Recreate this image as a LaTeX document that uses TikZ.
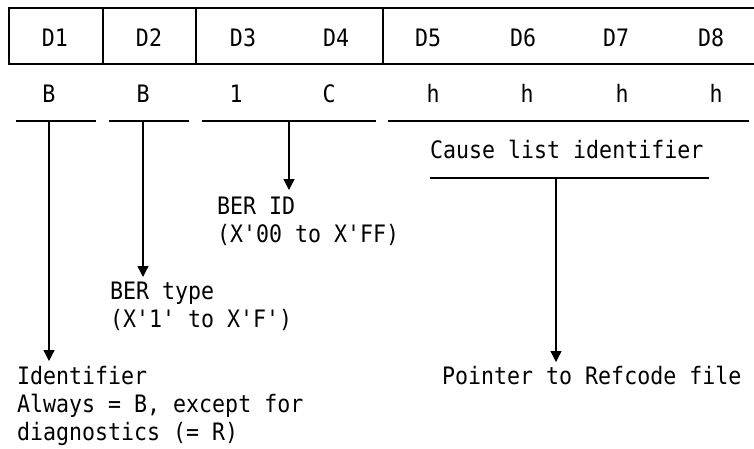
\documentclass[tikz,border=0pt]{standalone}
\usepackage{fontspec}
\newfontfamily\dmono[FakeStretch=0.9,Ligatures=TeXOff]{DejaVu Sans Mono}
\usetikzlibrary{arrows.meta}
\begin{document}
\begin{tikzpicture}[x=1pt,y=-1pt,
  txt/.style={font=\dmono\fontsize{24}{28}\selectfont, inner sep=0pt},
  ln/.style={line width=1.3pt},
  arr/.style={line width=1.3pt,-{Triangle[width=11pt,length=11pt]}}]
\useasboundingbox (0,0) rectangle (754,448);
% register box
\draw[ln] (756,8) -- (9,8) -- (9,64) -- (756,64);
\foreach \x in {103,196,383} \draw[ln] (\x,8) -- (\x,64);
% field names
\node[txt,anchor=base] (d1) at (55,46) {D1};
\node[txt,anchor=base] (d2) at (149,46) {D2};
\node[txt,anchor=base] (d3) at (243,46) {D3};
\node[txt,anchor=base] (d4) at (336,46) {D4};
\node[txt,anchor=base] (d5) at (428,46) {D5};
\node[txt,anchor=base] (d6) at (523,46) {D6};
\node[txt,anchor=base] (d7) at (616,46) {D7};
\node[txt,anchor=base] (d8) at (711,46) {D8};
% values
\node[txt,anchor=base] (v1) at (49,102) {B};
\node[txt,anchor=base] (v2) at (143,102) {B};
\node[txt,anchor=base] (v3) at (236,102) {1};
\node[txt,anchor=base] (v4) at (329,102) {C};
\node[txt,anchor=base] (v5) at (433,102) {h};
\node[txt,anchor=base] (v6) at (527,102) {h};
\node[txt,anchor=base] (v7) at (622,102) {h};
\node[txt,anchor=base] (v8) at (716,102) {h};
% underlines
\coordinate (a1) at (16,121);  \coordinate (b1) at (96,121);
\coordinate (a2) at (109,121); \coordinate (b2) at (189,121);
\coordinate (a3) at (202,121); \coordinate (b3) at (376,121);
\coordinate (a4) at (388,121); \coordinate (b4) at (749,121);
\coordinate (a5) at (430,178); \coordinate (b5) at (709,178);
\draw[ln] (a1) -- (b1);
\draw[ln] (a2) -- (b2);
\draw[ln] (a3) -- (b3);
\draw[ln] (a4) -- (b4);
\draw[ln] (a5) -- (b5);
% descriptions (multi-line nodes: base = last line)
\node[txt,anchor=base west] (cause) at (430,158) {Cause list identifier};
\node[txt,anchor=base west,align=left] (berid) at (217,242) {BER ID\\(X'00 to X'FF)};
\node[txt,anchor=base west,align=left] (bertype) at (110,327) {BER type\\(X'1' to X'F')};
\node[txt,anchor=base west,align=left] (ident) at (17,440) {Identifier\\Always = B, except for\\diagnostics (= R)};
\node[txt,anchor=base west] (pointer) at (442,384) {Pointer to Refcode file};
% arrows
\coordinate (u1) at (49,121);  \coordinate (t1) at (49,361);
\coordinate (u2) at (143,121); \coordinate (t2) at (143,277);
\coordinate (u3) at (289,121); \coordinate (t3) at (289,190);
\coordinate (u4) at (556,178); \coordinate (t4) at (556,362);
\draw[arr] (u1) -- (t1);
\draw[arr] (u2) -- (t2);
\draw[arr] (u3) -- (t3);
\draw[arr] (u4) -- (t4);
\end{tikzpicture}
\end{document}
